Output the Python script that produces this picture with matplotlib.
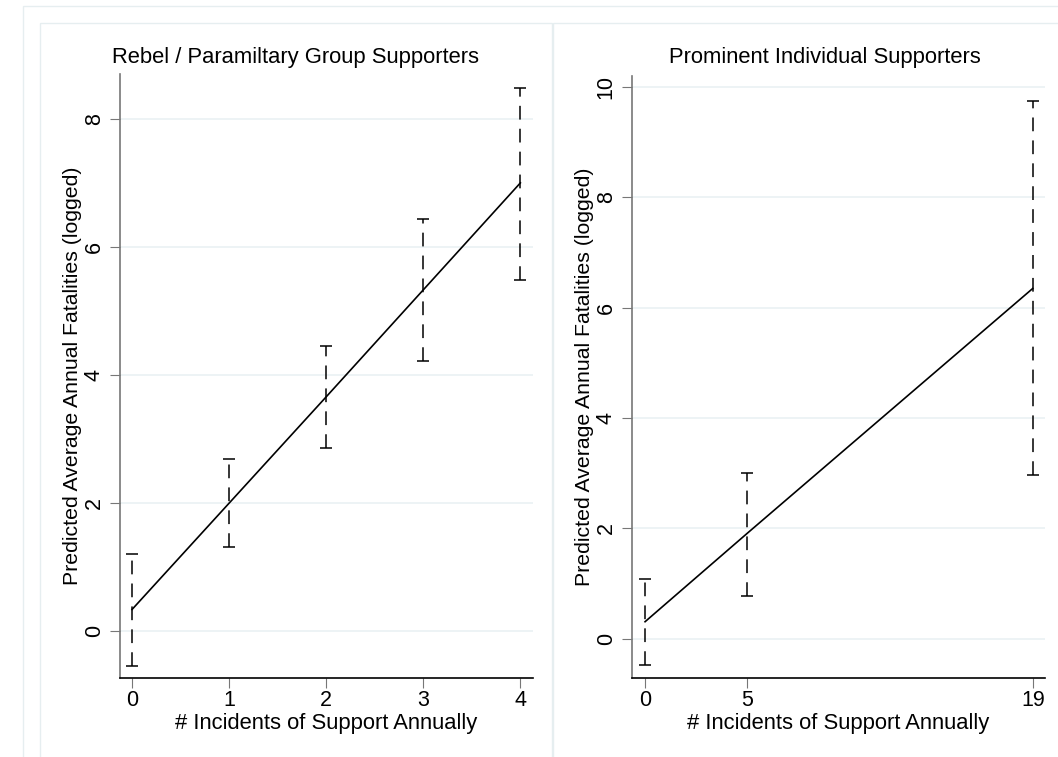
import matplotlib
matplotlib.use("Agg")
import matplotlib.pyplot as plt
from matplotlib.patches import Rectangle

plt.rcParams['font.family'] = ['Liberation Sans', 'DejaVu Sans']

# Rebel / paramilitary group supporters
rebel_x = [0, 1, 2, 3, 4]
rebel_est = [0.34, 2.0, 3.66, 5.33, 7.0]
rebel_lo = [-0.54, 1.32, 2.86, 4.22, 5.48]
rebel_hi = [1.21, 2.69, 4.45, 6.44, 8.48]

# Prominent individual supporters
indiv_x = [0, 5, 19]
indiv_est = [0.31, 1.91, 6.35]
indiv_lo = [-0.48, 0.78, 2.97]
indiv_hi = [1.08, 3.01, 9.75]

W, H = 1058, 757
fig = plt.figure(figsize=(W / 100, H / 100), dpi=100)
fig.patch.set_facecolor('white')

border = '#e6eef0'
# outer graph region and the two panel boxes
fig.patches.append(Rectangle((23 / W, -0.1), 1.2, (H - 6) / H + 0.1, transform=fig.transFigure,
                             fill=False, edgecolor=border, lw=1))
fig.patches.append(Rectangle((40 / W, -0.1), 512 / W, (H - 23) / H + 0.1, transform=fig.transFigure,
                             fill=False, edgecolor=border, lw=1))
fig.patches.append(Rectangle((553 / W, -0.1), 1.0, (H - 23) / H + 0.1, transform=fig.transFigure,
                             fill=False, edgecolor=border, lw=1))


def make_panel(rect, x, est, lo, hi, xlim, ylim, yticks, title, title_x):
    ax = fig.add_axes(rect)
    ax.set_xlim(*xlim)
    ax.set_ylim(*ylim)
    ax.set_xticks(x)
    ax.set_yticks(yticks)
    ax.tick_params(axis='y', labelrotation=90, labelsize=15.5, length=7, color='#777777', pad=4)
    ax.tick_params(axis='x', labelsize=15.5, length=7, color='#777777', pad=2)
    for lab in ax.get_yticklabels():
        lab.set_verticalalignment('center')
    ax.spines['top'].set_visible(False)
    ax.spines['right'].set_visible(False)
    ax.spines['left'].set_color('#777777')
    ax.spines['left'].set_linewidth(1.2)
    ax.spines['bottom'].set_color('black')
    ax.spines['bottom'].set_linewidth(1.2)
    ax.grid(axis='y', color='#eaf1f3', lw=1.2)
    ax.set_axisbelow(True)

    yerr = [[e - l for e, l in zip(est, lo)], [h - e for e, h in zip(est, hi)]]
    eb = ax.errorbar(x, est, yerr=yerr, fmt='none', ecolor='black', elinewidth=1.1,
                     capsize=4.5, capthick=1.1)
    eb[2][0].set_linestyle((0, (9, 6)))
    ax.plot(x, est, color='black', lw=1.2)

    ax.set_xlabel('# Incidents of Support Annually', fontsize=15.8, labelpad=1)
    ax.set_ylabel('Predicted Average Annual Fatalities (logged)', fontsize=15.3, labelpad=1.5)
    fig.text(title_x / W, 1 - 57 / H, title, ha='center', va='center', fontsize=15.8)
    return ax


make_panel([120 / W, 79 / H, 413 / W, 604 / H], rebel_x, rebel_est, rebel_lo, rebel_hi,
           (-0.124, 4.13), (-0.73, 8.70), [0, 2, 4, 6, 8],
           'Rebel / Paramiltary Group Supporters', 296)
make_panel([632 / W, 79 / H, 413 / W, 602 / H], indiv_x, indiv_est, indiv_lo, indiv_hi,
           (-0.64, 19.6), (-0.71, 10.2), [0, 2, 4, 6, 8, 10],
           'Prominent Individual Supporters', 825)

fig.savefig('out.png', dpi=100)
